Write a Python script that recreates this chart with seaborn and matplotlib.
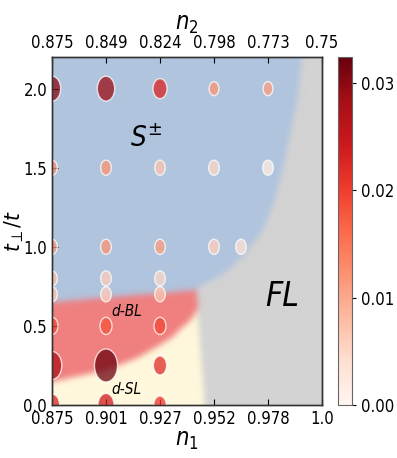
import numpy as np
import pandas as pd
import seaborn as sns
import matplotlib
matplotlib.use("Agg")
import matplotlib.pyplot as plt
import matplotlib.cm as cm
from matplotlib.path import Path
from matplotlib.colors import Normalize, to_rgb
from matplotlib.ticker import FormatStrFormatter

# ---------------------- data ---------------------- #
n1_labels = ["0.875", "0.901", "0.927", "0.952", "0.978", "1.0"]
n2_labels = ["0.875", "0.849", "0.824", "0.798", "0.773", "0.75"]
t_ticks = [0.0, 0.5, 1.0, 1.5, 2.0]

# grid points (x = step along the n1 grid, t = t_perp / t)
pt_x = [0, 1, 2, 3, 4,
        0, 1, 2, 3, 4,
        0, 1, 2, 3, 3.5,
        0, 1, 2,
        0, 1, 2,
        0, 1, 2,
        0, 1, 2,
        0, 1, 2]
pt_t = [2.0, 2.0, 2.0, 2.0, 2.0,
        1.5, 1.5, 1.5, 1.5, 1.5,
        1.0, 1.0, 1.0, 1.0, 1.0,
        0.8, 0.8, 0.8,
        0.7, 0.7, 0.7,
        0.5, 0.5, 0.5,
        0.25, 0.25, 0.25,
        0.0, 0.0, 0.0]
# colour value (order parameter)
pt_val = [0.030, 0.029, 0.023, 0.012, 0.011,
          0.013, 0.012, 0.007, 0.005, 0.002,
          0.012, 0.012, 0.011, 0.006, 0.004,
          0.008, 0.006, 0.005,
          0.007, 0.006, 0.007,
          0.019, 0.018, 0.019,
          0.027, 0.032, 0.022,
          0.023, 0.024, 0.021]
# marker amplitude (relative)
pt_amp = [0.57, 0.57, 0.37, 0.18, 0.18,
          0.21, 0.21, 0.21, 0.21, 0.21,
          0.21, 0.21, 0.21, 0.21, 0.21,
          0.21, 0.21, 0.21,
          0.21, 0.21, 0.21,
          0.27, 0.27, 0.27,
          0.72, 1.00, 0.33,
          0.44, 0.49, 0.30]

# phase boundaries
fl_t = [0.0, 0.57, 0.74, 0.835, 0.95, 1.11, 1.30, 1.55, 1.93, 2.20]
fl_x = [2.83, 2.70, 2.69, 3.20, 3.57, 3.91, 4.13, 4.31, 4.54, 4.63]
bl_top_x = [0.0, 1.0, 2.1, 2.6, 3.0]
bl_top_t = [0.65, 0.68, 0.71, 0.725, 0.74]
bl_bot_x = [0.0, 0.4, 1.0, 1.6, 2.2, 2.6, 2.75, 3.0]
bl_bot_t = [0.146, 0.177, 0.22, 0.30, 0.42, 0.55, 0.64, 0.74]
phase_colors = ["lightsteelblue", "lightgray", "lightcoral", "cornsilk"]

vmax = 0.0324


def smooth(img, sigma):
    r = int(3 * sigma)
    k = np.exp(-0.5 * (np.arange(-r, r + 1) / sigma) ** 2)
    k /= k.sum()
    pad = np.pad(img, ((r, r), (r, r), (0, 0)), mode="edge")
    out = np.apply_along_axis(lambda m: np.convolve(m, k, mode="valid"), 0, pad)
    out = np.apply_along_axis(lambda m: np.convolve(m, k, mode="valid"), 1, out)
    return out


sns.set_style("white")
plt.rcParams["font.family"] = ["DejaVu Sans"]
plt.rcParams["font.stretch"] = "condensed"
plt.rcParams["mathtext.fontset"] = "dejavusans"
for key in ("text.color", "axes.labelcolor", "xtick.color", "ytick.color"):
    plt.rcParams[key] = "black"

fig = plt.figure(figsize=(3.97, 4.58), dpi=100)
ax = fig.add_axes([52 / 397, 53 / 458, 270 / 397, 348 / 458])
cax = fig.add_axes([338 / 397, 53 / 458, 14 / 397, 348 / 458])

# ---------------- phase background ---------------- #
nu, nt = 270, 348
gu = (np.arange(nu) + 0.5) / nu * 5
gt = (np.arange(nt) + 0.5) / nt * 2.2
U, T = np.meshgrid(gu, gt)
top = np.interp(U, bl_top_x, bl_top_t)
bot = np.interp(U, bl_bot_x, bl_bot_t)
edge = np.interp(T, fl_t, fl_x)
phase = np.zeros(U.shape, dtype=int)
phase[(T < top) & (T > bot)] = 2
phase[T <= bot] = 3
phase[U > edge] = 1
rgb = np.array([to_rgb(c) for c in phase_colors])[phase]
rgb = smooth(rgb, 3.0)
ax.imshow(rgb, origin="lower", extent=(0, 5, 0, 2.2), aspect="auto",
          interpolation="bilinear", zorder=0)

# ---------------------- dots ---------------------- #
circ = Path.unit_circle()
ellipse = Path(circ.vertices * np.array([0.7, 1.0]), circ.codes)
norm = Normalize(0, vmax)
df = pd.DataFrame({"x": pt_x, "t": pt_t, "val": pt_val, "amp": pt_amp})
sns.scatterplot(data=df, x="x", y="t", hue="val", palette="Reds",
                hue_norm=norm, size="amp", sizes=(0, 564), size_norm=(0, 1),
                marker=ellipse, alpha=0.75, edgecolor="white", linewidth=1,
                legend=False, ax=ax, zorder=3)

ax.set_xlim(0, 5)
ax.set_ylim(0, 2.2)
ax.set_xticks(range(6))
ax.set_xticklabels(n1_labels)
ax.set_yticks(t_ticks)
ax.yaxis.set_major_formatter(FormatStrFormatter("%.1f"))
ax.tick_params(direction="in", length=4, labelsize=12, left=True, bottom=True)
ax.set_xlabel("$n_1$", fontsize=17, labelpad=0)
ax.set_ylabel(r"$t_\perp/t$", fontsize=16)
ax.yaxis.set_label_coords(-0.095, 0.5)

ax2 = ax.twiny()
ax2.set_xlim(0, 5)
ax2.set_xticks(range(6))
ax2.set_xticklabels(n2_labels)
ax2.tick_params(direction="in", length=4, labelsize=12, top=True)
ax2.set_xlabel("$n_2$", fontsize=17, labelpad=3)
for a in (ax, ax2):
    for s in a.spines.values():
        s.set_color("0.2")
        s.set_linewidth(1)

ax.text(1.74, 1.68, r"$S^{\pm}$", fontsize=20, ha="center", va="center")
ax.text(4.26, 0.684, "FL", fontsize=24, style="italic", ha="center", va="center")
ax.text(1.39, 0.59, "d-BL", fontsize=11, style="italic", ha="center", va="center")
ax.text(1.37, 0.095, "d-SL", fontsize=11, style="italic", ha="center", va="center")

# -------------------- colorbar -------------------- #
cb = fig.colorbar(cm.ScalarMappable(norm=norm, cmap="Reds"), cax=cax)
cb.set_ticks([0.0, 0.01, 0.02, 0.03])
cb.ax.yaxis.set_major_formatter(FormatStrFormatter("%.2f"))
cb.outline.set_edgecolor("0.4")
cax.tick_params(labelsize=12, length=3, right=True)

fig.savefig("out.png", dpi=100)
